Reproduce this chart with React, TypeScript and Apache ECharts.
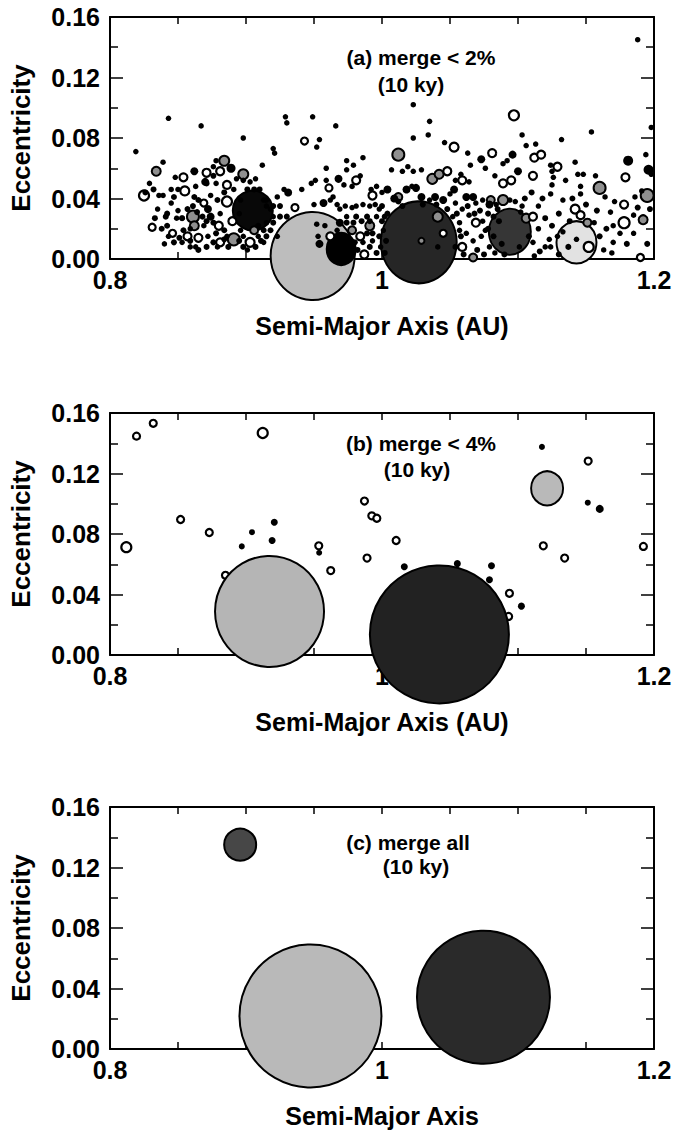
import React, { useEffect, useRef } from "react";
import * as echarts from "echarts";

// ---------- axis ranges / ticks ----------
const X_MIN = 0.8;
const X_MAX = 1.2;
const X_LABELS = [0.8, 1.0, 1.2];
const Y_MIN = 0;
const Y_MAX = 0.16;

// ---------- panel texts ----------
const PANEL_NOTES = [
  ["(a) merge < 2%", "(10 ky)"],
  ["(b) merge < 4%", "(10 ky)"],
  ["(c) merge all", "(10 ky)"],
];
const X_TITLES = ["Semi-Major Axis (AU)", "Semi-Major Axis (AU)", "Semi-Major Axis"];
const Y_TITLE = "Eccentricity";

// ---------- panel (a): [a, e, marker diameter] ----------
const A_FILLED: number[][] = [
  [0.843,0.093],[0.867,0.088],[0.819,0.071],[0.898,0.080],[0.929,0.094],[0.930,0.090],[0.949,0.094],[0.966,0.088],
  [0.954,0.079],[0.952,0.074],[0.920,0.073],[0.921,0.070],[0.912,0.062],[0.839,0.064],[0.829,0.050],[0.836,0.042],
  [0.839,0.042],[0.845,0.046],[0.848,0.054],[0.845,0.037],[0.863,0.048],[0.850,0.046],[0.835,0.033],[0.850,0.032],
  [0.849,0.027],[0.853,0.027],[0.843,0.015],[0.840,0.010],[0.853,0.011],[0.859,0.020],[0.863,0.008],[0.872,0.015],
  [0.869,0.022],[0.874,0.042],[0.878,0.050],[0.876,0.061],[0.878,0.065],[0.891,0.046],[0.881,0.030],[0.886,0.015],
  [0.895,0.030],[0.893,0.053],[0.898,0.052],[0.903,0.051],[0.907,0.053],[0.898,0.015],[0.896,0.019],[0.909,0.015],
  [0.915,0.024],[0.918,0.033],[0.915,0.039],[0.923,0.041],[0.928,0.046],[0.941,0.046],[0.948,0.050],[0.951,0.052],
  [0.959,0.060],[0.959,0.052],[0.964,0.041],[0.972,0.049],[0.974,0.065],[0.979,0.062],[0.974,0.059],[0.984,0.055],
  [0.986,0.067],[0.978,0.048],[0.992,0.046],[0.996,0.048],
  [0.950,0.036],[0.962,0.039],[0.967,0.036],[0.969,0.033],[0.973,0.035],[0.978,0.034],[0.981,0.035],[0.986,0.036],
  [0.991,0.035],[0.995,0.036],[0.998,0.033],
  [0.952,0.023],[0.958,0.022],[0.953,0.015],[0.967,0.019],[0.974,0.028],[0.971,0.015],[0.986,0.011],[0.996,0.028],
  [1.001,0.019],[0.993,0.012],[0.999,0.008],
  [0.915,0.035],[0.896,0.039],[0.913,0.039],[0.920,0.028],[0.923,0.015],[0.913,0.011],[0.859,0.008],[0.879,0.008],[0.901,0.006],
  [1.023,0.102],[1.035,0.091],[1.034,0.082],[1.023,0.080],[1.103,0.082],[1.154,0.084],[1.132,0.079],[1.046,0.077],
  [1.063,0.070],[1.089,0.063],[1.092,0.065],[1.106,0.075],[1.113,0.076],[1.124,0.062],[1.142,0.064],[1.194,0.069],
  [1.198,0.056],[1.007,0.059],[1.015,0.058],[1.019,0.061],[1.023,0.058],[1.029,0.059],[1.054,0.052],[1.064,0.051],
  [1.058,0.056],[1.065,0.062],[1.076,0.060],[1.083,0.055],[1.125,0.058],[1.126,0.054],[1.135,0.052],[1.144,0.056],
  [1.148,0.056],[1.157,0.055],[1.146,0.048],[1.125,0.049],[1.124,0.043],[1.133,0.039],[1.146,0.043],[1.164,0.041],
  [1.171,0.038],[1.186,0.041],[1.191,0.045],[1.168,0.031],[1.185,0.029],[1.170,0.022],[1.175,0.017],[1.185,0.017],
  [1.170,0.011],[1.169,0.004],[1.163,0.006],[1.156,0.024],[1.123,0.013],[1.120,0.008],[1.124,0.008],[1.115,0.020],
  [1.115,0.035],[1.103,0.035],[1.102,0.031],[1.000,0.044],[1.022,0.048],[1.035,0.039],[1.050,0.043],[1.054,0.037],
  [1.059,0.033],[1.064,0.029],[1.074,0.025],[1.076,0.019],[1.073,0.015],[1.067,0.012],[1.062,0.017],[1.057,0.019],
  [1.057,0.024],[1.079,0.008],[1.083,0.004],[1.069,0.037],[1.074,0.039],[1.084,0.036],[1.094,0.039],[1.098,0.038],
  [1.101,0.008],[1.111,0.011],[1.112,0.002],[1.129,0.015],[1.133,0.018],[1.041,0.008],[1.052,0.028],[1.188,0.145],
  [1.198,0.087],[1.143,0.013],
].map((p) => [p[0], p[1], 5.5]);

// denser crowd in the packed band
const A_FILLED_CROWD: number[][] = [
  [0.857,0.033],[0.861,0.035],[0.864,0.031],[0.868,0.028],[0.871,0.025],[0.876,0.024],[0.878,0.017],[0.884,0.019],
  [0.884,0.013],[0.887,0.008],[0.895,0.012],[0.898,0.008],[0.907,0.008],[0.911,0.012],[0.915,0.015],[0.909,0.022],
  [0.913,0.019],[0.918,0.019],[0.920,0.024],[0.920,0.035],[0.925,0.035],[0.925,0.028],[0.930,0.028],[0.853,0.027],
  [0.854,0.019],[0.851,0.014],[0.847,0.011],[0.859,0.012],[0.865,0.006],[0.871,0.008],[0.876,0.011],[0.842,0.022],
  [0.841,0.028],[0.847,0.041],[0.862,0.041],[0.865,0.039],[0.879,0.039],[0.884,0.044],[0.876,0.055],[0.871,0.050],
  [0.901,0.046],[0.906,0.046],[0.910,0.046],
  [0.974,0.024],[0.979,0.024],[0.981,0.028],[0.985,0.025],[0.989,0.028],[0.991,0.025],[0.980,0.011],[0.982,0.006],
  [0.991,0.008],[0.996,0.004],[0.998,0.015],[1.002,0.028],[0.989,0.017],[0.993,0.017],[0.974,0.008],
  [1.000,0.035],[1.004,0.030],[1.000,0.025],[1.003,0.012],[1.002,0.004],[1.055,0.030],[1.058,0.015],[1.054,0.008],
  [1.060,0.003],[1.048,0.033],[1.040,0.036],[1.030,0.036],[1.015,0.035],[1.012,0.038],
  [1.063,0.035],[1.068,0.030],[1.072,0.032],[1.078,0.030],[1.082,0.028],[1.086,0.025],[1.078,0.020],[1.082,0.015],
  [1.088,0.010],[1.070,0.006],[1.075,0.003],[1.090,0.003],[1.085,0.033],[1.105,0.040],[1.110,0.044],[1.118,0.040],
  [1.108,0.015],[1.116,0.005],[1.120,0.027],[1.125,0.022],[1.130,0.030],[1.138,0.025],[1.137,0.008],[1.130,0.003],
  [1.140,0.040],[1.150,0.036],[1.158,0.032],[1.160,0.015],[1.165,0.020],[1.180,0.010],[1.195,0.010],[1.197,0.033],
  [1.188,0.034],[0.826,0.044],[0.832,0.046],[0.833,0.027],[0.838,0.020],[0.842,0.030],
].map((p) => [p[0], p[1], 6]);

const A_FILLED_BIG: number[][] = [
  [0.862,0.058,8],[0.870,0.051,8],[0.874,0.028,8],[0.889,0.060,9],[0.931,0.044,8],[0.968,0.053,8],[0.957,0.037,8],
  [0.954,0.010,8],[0.969,0.024,8],[0.872,0.033,8],[1.073,0.066,8],[1.096,0.069,8],[1.100,0.058,8],[1.004,0.046,8],
  [1.009,0.040,8],[1.018,0.046,8],[1.025,0.047,8],[1.029,0.041,8],[1.039,0.041,8],[1.045,0.039,8],[1.053,0.046,8],
  [1.062,0.041,8],[1.067,0.041,8],[1.079,0.036,8],[1.181,0.065,10],[1.196,0.059,10],
];

const A_RING: number[][] = [
  [0.943,0.078,7],[0.825,0.042,10],[0.854,0.054,8],[0.871,0.057,8],[0.855,0.045,9],[0.831,0.021,7],[0.846,0.017,7],
  [0.857,0.015,8],[0.865,0.014,8],[0.869,0.037,7],[0.881,0.058,8],[0.886,0.049,8],[0.886,0.038,10],[0.880,0.022,8],
  [0.881,0.011,8],[0.890,0.025,8],[0.903,0.011,9],[0.936,0.034,7],[0.961,0.047,7],[0.981,0.052,8],[0.993,0.042,8],
  [0.962,0.015,8],[0.984,0.015,8],[0.987,0.003,8],
  [1.097,0.095,10],[1.053,0.074,9],[1.081,0.070,8],[1.112,0.067,8],[1.117,0.069,8],[1.129,0.061,8],[1.179,0.054,8],
  [1.048,0.058,8],[1.059,0.052,8],[1.089,0.050,8],[1.095,0.052,8],[1.111,0.055,8],[1.178,0.036,8],[1.178,0.024,11],
  [1.190,0.001,7],[1.142,0.033,9],[1.146,0.029,8],[1.152,0.008,10],[1.111,0.028,8],[1.069,0.024,8],[1.059,0.008,8],
  [1.045,0.017,7],
];

const A_GRAY: number[][] = [
  [0.834,0.058,9],[0.861,0.028,12],[0.862,0.022,9],[0.884,0.065,10],[0.891,0.013,12],[0.898,0.056,10],[0.906,0.019,8],
  [0.978,0.019,8],[0.991,0.022,9],[1.012,0.069,12],[1.037,0.053,10],[1.042,0.056,9],[1.160,0.047,12],[1.195,0.042,13],
  [1.192,0.026,9],[1.151,0.024,8],[1.041,0.028,10],[1.089,0.039,10],[1.067,0.001,8],[1.029,0.012,6],[1.106,0.027,9],
  [1.080,0.039,8],[1.012,0.041,8],
];

// big merged bodies: [a, e, width, height]
const A_BODIES: number[][] = [
  [0.905,0.032,40,40],[0.949,0.002,84,88],[0.970,0.0066,29,32],[1.027,0.011,76,82],[1.094,0.018,42,46],[1.143,0.011,40,42],
];

// ---------- panel (b) ----------
const B_RING: number[][] = [
  [0.8195,0.1447,7],[0.8318,0.1532,7],[0.8519,0.0896,7],[0.8730,0.0810,7],[0.8849,0.0527,7],[0.9535,0.0722,7],
  [0.9623,0.0558,7],[0.9871,0.1018,7],[0.9890,0.0641,7],[0.9925,0.0920,7],[0.9962,0.0904,7],[1.0104,0.0757,7],
  [1.0937,0.0408,7],[1.0931,0.0255,7],[1.1186,0.0722,7],[1.1343,0.0641,7],[1.1516,0.1282,7],[1.1922,0.0718,7],
  [0.8120,0.0713,10],[0.9123,0.1468,10],
];
const B_FILLED: number[][] = [
  [0.8969,0.0718,6],[0.9044,0.0812,6],[0.9192,0.0757,7],[0.9208,0.0878,7],[0.9315,0.0553,7],[0.9538,0.0676,6],
  [1.0164,0.0584,7],[1.0554,0.0604,7],[1.0805,0.0590,7],[1.0790,0.0498,7],[1.1025,0.0323,7],[1.1176,0.1376,6],
  [1.1513,0.1007,6],[1.1601,0.0966,8],
];
const B_BODIES: number[][] = [
  [0.9173,0.0288,109,111],[1.0422,0.0136,139,138],[1.1214,0.1102,32,34],
];

// ---------- panel (c) ----------
const C_BODIES: number[][] = [
  [0.8957,0.1351,32,32],[0.9474,0.0218,142,143],[1.0746,0.0342,133,133],
];

// ---------- styles ----------
const FONT = "'Liberation Sans', Arial, Helvetica, sans-serif";
const SHADES_A = ["#080808", "#bdbdbd", "#000000", "#262626", "#363636", "#e2e2e2"];
const SHADES_B = ["#b5b5b5", "#222222", "#b9b9b9"];
const SHADES_C = ["#474747", "#b9b9b9", "#2a2a2a"];

const GRIDS = [
  { left: 107, top: 17, width: 547, height: 242 },
  { left: 107, top: 413, width: 547, height: 242 },
  { left: 108, top: 807, width: 546, height: 242 },
];
const NOTE_POS = [
  [[421, 57], [411, 84]],
  [[421, 443], [417, 469]],
  [[408, 842], [416, 866]],
];

function near(v: number, t: number) {
  return Math.abs(v - t) < 1e-6;
}

function buildOption() {
  const xAxis: any[] = [];
  const yAxis: any[] = [];
  const series: any[] = [];
  const graphic: any[] = [];

  GRIDS.forEach((_, i) => {
    const common = { type: "value", gridIndex: i, min: X_MIN, max: X_MAX, interval: 0.05 };
    xAxis.push({
      ...common,
      position: "bottom",
      name: X_TITLES[i],
      nameLocation: "middle",
      nameGap: 54,
      nameTextStyle: { fontFamily: FONT, fontSize: 25, fontWeight: "bold", color: "#000" },
      axisLine: { show: true, onZero: false, lineStyle: { color: "#000", width: 2 } },
      axisTick: { show: true, inside: true, length: 7, lineStyle: { color: "#000", width: 1.5 } },
      splitLine: { show: false },
      axisLabel: {
        show: true,
        interval: 0,
        margin: 8,
        hideOverlap: false,
        fontFamily: FONT,
        fontSize: 25,
        fontWeight: "bold",
        color: "#000",
        formatter: (v: number) => {
          const hit = X_LABELS.find((t) => near(v, t));
          if (hit === undefined) return "";
          return near(hit, 1) ? "1" : hit.toFixed(1);
        },
      },
    });
    xAxis.push({
      ...common,
      position: "top",
      axisLine: { show: true, onZero: false, lineStyle: { color: "#000", width: 2 } },
      axisTick: { show: true, inside: true, length: 7, lineStyle: { color: "#000", width: 1.5 } },
      axisLabel: { show: false },
      splitLine: { show: false },
    });
    const ycommon = {
      type: "value",
      gridIndex: i,
      min: Y_MIN,
      max: Y_MAX,
      interval: 0.04,
      splitLine: { show: false },
      minorSplitLine: { show: false },
      axisLine: { show: true, onZero: false, lineStyle: { color: "#000", width: 2 } },
      axisTick: { show: true, inside: true, length: 13, lineStyle: { color: "#000", width: 1.5 } },
      minorTick: { show: true, splitNumber: 2, length: 8, lineStyle: { color: "#000", width: 1.5 } },
    };
    yAxis.push({
      ...ycommon,
      position: "left",
      name: Y_TITLE,
      nameLocation: "middle",
      nameGap: 76,
      nameRotate: 90,
      nameTextStyle: { fontFamily: FONT, fontSize: 26, fontWeight: "bold", color: "#000" },
      axisLabel: {
        show: true,
        margin: 10,
        fontFamily: FONT,
        fontSize: 25,
        fontWeight: "bold",
        color: "#000",
        formatter: (v: number) => v.toFixed(2),
      },
    });
    yAxis.push({ ...ycommon, position: "right", axisLabel: { show: false } });

    NOTE_POS[i].forEach((pos, k) => {
      graphic.push({
        type: "text",
        x: pos[0],
        y: pos[1],
        z: 100,
        style: {
          text: PANEL_NOTES[i][k],
          fontFamily: FONT,
          fontSize: 21,
          fontWeight: "bold",
          fill: "#000",
          align: "center",
          verticalAlign: "middle",
        },
      });
    });
  });

  const bodySeries = (gi: number, data: number[][], shades: string[], z: number) => ({
    type: "scatter",
    xAxisIndex: gi * 2,
    yAxisIndex: gi * 2,
    clip: false,
    silent: true,
    z,
    symbol: "circle",
    data: data.map((d, k) => ({
      value: [d[0], d[1]],
      symbolSize: [d[2], d[3]],
      itemStyle: { color: shades[k], opacity: 1, borderColor: "#000", borderWidth: 2 },
    })),
  });

  const ptSeries = (gi: number, data: number[][], style: any, z: number) => ({
    type: "scatter",
    xAxisIndex: gi * 2,
    yAxisIndex: gi * 2,
    clip: false,
    silent: true,
    z,
    symbol: "circle",
    symbolSize: (v: number[]) => v[2],
    itemStyle: { ...style, opacity: 1 },
    data,
  });

  const filled = { color: "#000", borderWidth: 0 };
  const ring = { color: "#fff", borderColor: "#000", borderWidth: 2.2 };
  const gray = { color: "#8f8f8f", borderColor: "#000", borderWidth: 2 };

  // panel a
  series.push(bodySeries(0, A_BODIES, SHADES_A, 2));
  series.push(ptSeries(0, A_GRAY, gray, 3));
  series.push(ptSeries(0, A_RING, ring, 3));
  series.push(ptSeries(0, A_FILLED_BIG, filled, 4));
  series.push(ptSeries(0, A_FILLED, filled, 4));
  series.push(ptSeries(0, A_FILLED_CROWD, filled, 4));
  // panel b
  series.push(ptSeries(1, B_RING, ring, 3));
  series.push(ptSeries(1, B_FILLED, filled, 3));
  series.push(bodySeries(1, B_BODIES, SHADES_B, 4));
  // panel c
  series.push(bodySeries(2, C_BODIES, SHADES_C, 4));

  return {
    animation: false,
    backgroundColor: "#fff",
    textStyle: { fontFamily: FONT },
    grid: GRIDS.map((g) => ({ ...g, show: false, containLabel: false })),
    xAxis,
    yAxis,
    series,
    graphic,
  };
}

export default function App() {
  const ref = useRef<HTMLDivElement>(null);
  useEffect(() => {
    if (!ref.current) return;
    const chart = echarts.init(ref.current, undefined, { renderer: "svg" });
    chart.setOption(buildOption() as any);
    return () => chart.dispose();
  }, []);
  return (
    <div
      ref={ref}
      style={{ position: "absolute", left: 0, top: 0, width: 675, height: 1134, background: "#fff" }}
    />
  );
}
